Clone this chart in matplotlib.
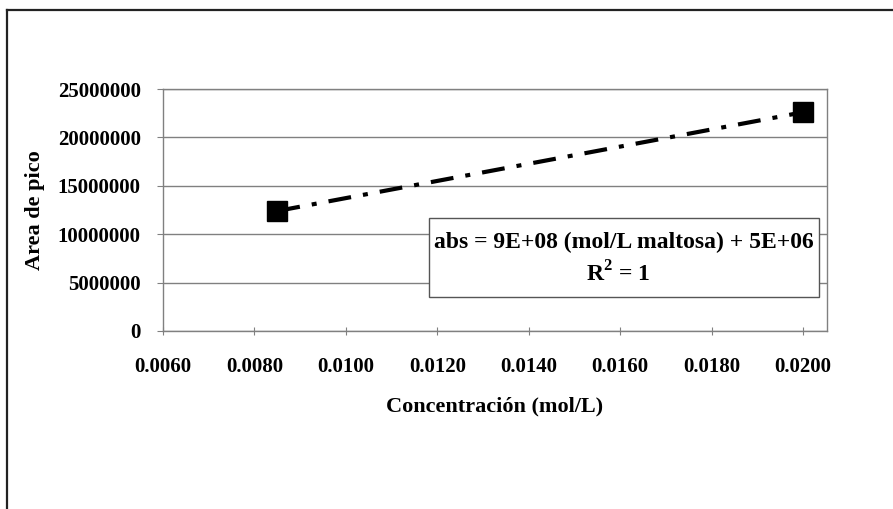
import matplotlib
matplotlib.use("Agg")
import matplotlib.pyplot as plt
from matplotlib.lines import Line2D
from matplotlib.patches import Rectangle
from matplotlib.ticker import FormatStrFormatter

# data
conc = [0.0085, 0.0200]
area = [12400000, 22600000]
x_ticks = [0.006, 0.008, 0.010, 0.012, 0.014, 0.016, 0.018, 0.020]
y_ticks = [0, 5000000, 10000000, 15000000, 20000000, 25000000]
eq_text = "abs = 9E+08 (mol/L maltosa) + 5E+06"
r2_text = "R$^\\mathbf{2}$ = 1"

plt.rcParams["font.family"] = ["Liberation Serif", "DejaVu Serif"]
plt.rcParams["mathtext.fontset"] = "custom"
plt.rcParams["mathtext.bf"] = "Liberation Serif:bold"
plt.rcParams["mathtext.rm"] = "Liberation Serif:bold"

fig = plt.figure(figsize=(8.93, 5.09), dpi=100)
ax = fig.add_axes([163 / 893, 1 - 331 / 509, 664 / 893, 242 / 509])

ax.plot(conc, area, color="black", linestyle=(0, (5.5, 2.9, 1.2, 2.9)), linewidth=3,
        marker="s", markersize=14, markerfacecolor="black", markeredgecolor="black")

ax.set_xlim(0.006, 0.02052)
ax.set_ylim(0, 25000000)
ax.set_xticks(x_ticks)
ax.set_yticks(y_ticks)
ax.xaxis.set_major_formatter(FormatStrFormatter("%.4f"))
ax.yaxis.set_major_formatter(FormatStrFormatter("%d"))
ax.grid(axis="y", color="#808080", linewidth=1.0)
ax.set_axisbelow(True)
for side in ("top", "right", "left", "bottom"):
    ax.spines[side].set_color("#808080")
    ax.spines[side].set_linewidth(1.0)
ax.tick_params(axis="x", direction="inout", length=6, color="#808080",
               labelsize=15, pad=16)
ax.tick_params(axis="y", direction="out", length=4, color="#808080",
               labelsize=15, pad=12)
for lab in ax.get_xticklabels() + ax.get_yticklabels():
    lab.set_fontweight("bold")

ax.set_xlabel("Concentración (mol/L)", fontsize=16, fontweight="bold", labelpad=14)
ax.set_ylabel("Area de pico", fontsize=16, fontweight="bold", labelpad=9)

# trendline label box
ax.add_patch(Rectangle((0.4006, 0.1405), 0.588, 0.3265, transform=ax.transAxes,
                       facecolor="white", edgecolor="#555555", linewidth=1.0, zorder=3))
ax.text(0.694, 0.364, eq_text, transform=ax.transAxes, ha="center", va="center",
        fontsize=17, fontweight="bold", zorder=4)
ax.text(0.686, 0.236, r2_text, transform=ax.transAxes, ha="center", va="center",
        fontsize=17, fontweight="bold", zorder=4)

# outer chart frame (cut off at right and bottom in the scan)
fig.add_artist(Line2D([7 / 893, 1], [1 - 10 / 509, 1 - 10 / 509],
                      transform=fig.transFigure, color="#222222", linewidth=1.6))
fig.add_artist(Line2D([7 / 893, 7 / 893], [0, 1 - 10 / 509],
                      transform=fig.transFigure, color="#222222", linewidth=1.6))

fig.savefig("out.png", dpi=100)
